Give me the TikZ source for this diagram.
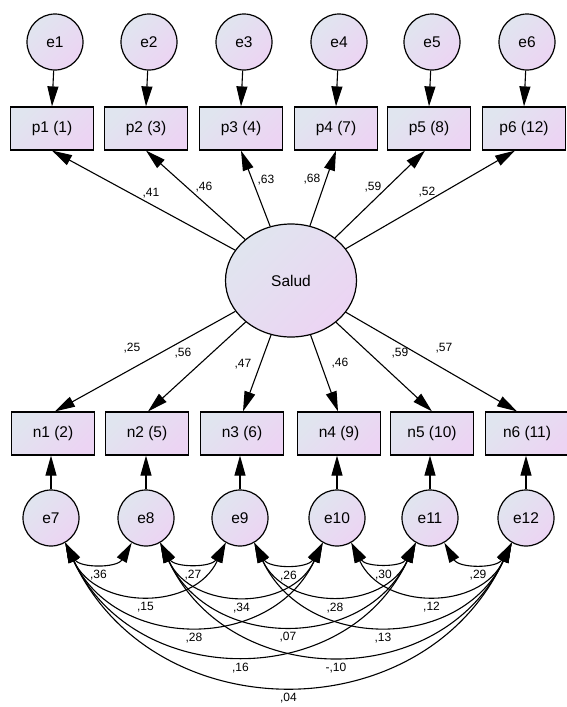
\documentclass[tikz,border=0pt]{standalone}
\usepackage{fontspec}
\setmainfont{Liberation Sans}
\usetikzlibrary{arrows.meta,shapes.geometric}
\definecolor{fillA}{RGB}{224,229,239}
\definecolor{fillB}{RGB}{236,212,243}
\tikzset{
  shadefill/.style={top color=fillA, bottom color=fillB, shading angle=45},
  boxfont/.style={font=\fontsize{15.5}{18}\selectfont},
  errvar/.style={circle, draw, line width=1.2pt, shadefill, minimum size=56pt, inner sep=0pt, boxfont},
  factor/.style={ellipse, draw, line width=1.2pt, shadefill, minimum width=131pt, minimum height=113pt, inner sep=0pt, boxfont},
  item/.style={rectangle, draw, line width=1.2pt, shadefill, minimum width=83pt, minimum height=43pt, inner sep=0pt, boxfont},
  tip/.tip={Triangle[length=20pt,width=11pt]},
  regress/.style={line width=1.1pt, -tip},
  cov/.style={line width=1.1pt, tip-tip},
  near/.style={out=-60, in=-120, looseness=1.13},
  far/.style={out=-65, in=-115, looseness=1.2},
  coef/.style={font=\fontsize{12}{14}\selectfont, inner sep=0pt},
}
\begin{document}
\begin{tikzpicture}[x=1pt, y=1pt]
\path[use as bounding box] (0,0) rectangle (567,-707);

% latent factor
\node[factor] (S) at (291,-280.5) {Salud};

% upper indicators and their errors
\foreach \i/\x/\ex/\t in {1/52/55/p1 (1), 2/146/149/p2 (3), 3/241/244/p3 (4),
                          4/336/339/p4 (7), 5/429/432/p5 (8), 6/524/527/p6 (12)} {
  \node[item] (p\i) at (\x,-128.5) {\t};
  \node[errvar] (e\i) at (\ex,-42) {e\i};
  \draw[regress] (e\i) -- (p\i.north);
}

% lower indicators and their errors
\foreach \i/\x/\ex/\t in {1/53/51/n1 (2), 2/147/146/n2 (5), 3/242/240/n3 (6),
                          4/339/337/n4 (9), 5/432/430/n5 (10), 6/527/526/n6 (11)} {
  \pgfmathtruncatemacro{\k}{\i+6}
  \node[item] (n\i) at (\x,-433.5) {\t};
  \node[errvar] (e\k) at (\ex,-518) {e\k};
  \draw[regress] (e\k) -- (e\k |- n\i.south);
}

% loadings on the upper items
\draw[regress] (S) -- (p1.south);
\draw[regress] (S) -- (p2.south);
\draw[regress] (S) -- (p3.south);
\draw[regress] (S) -- (p4.south);
\draw[regress] (S) -- ([xshift=-4pt]p5.south);
\draw[regress] (S) -- ([xshift=-9pt]p6.south);
\node[coef] (w1) at (151,-193) {,41};
\node[coef] (w2) at (204,-187) {,46};
\node[coef] (w3) at (266,-180) {,63};
\node[coef] (w4) at (312,-179) {,68};
\node[coef] (w5) at (373,-187) {,59};
\node[coef] (w6) at (427,-192) {,52};

% loadings on the lower items
\draw[regress] (S) -- ([xshift=2pt]n1.north);
\draw[regress] (S) -- ([xshift=1pt]n2.north);
\draw[regress] (S) -- ([xshift=1pt]n3.north);
\draw[regress] (S) -- ([xshift=-1pt]n4.north);
\draw[regress] (S) -- (n5.north);
\draw[regress] (S) -- ([xshift=-10pt]n6.north);
\node[coef] (v1) at (132,-348) {,25};
\node[coef] (v2) at (183,-353) {,56};
\node[coef] (v3) at (243,-364) {,47};
\node[coef] (v4) at (340,-363) {,46};
\node[coef] (v5) at (400,-353) {,59};
\node[coef] (v6) at (444,-348) {,57};

% error covariances
\draw[cov] (e7.-60)  to[near] node[coef, midway, below=8pt] (c1) {,36} (e8.-120);
\draw[cov] (e8.-60)  to[near] node[coef, midway, below=8pt] (c2) {,27} (e9.-120);
\draw[cov] (e9.-60)  to[near] node[coef, midway, below=8pt] (c3) {,26} (e10.-120);
\draw[cov] (e10.-60) to[near] node[coef, midway, below=8pt] (c4) {,30} (e11.-120);
\draw[cov] (e11.-60) to[near] node[coef, midway, below=8pt] (c5) {,29} (e12.-120);

\draw[cov] (e7.-60)  to[far] node[coef, midway, below=8pt] (c6) {,15} (e9.-120);
\draw[cov] (e8.-60)  to[far] node[coef, midway, below=8pt] (c7) {,34} (e10.-120);
\draw[cov] (e9.-60)  to[far] node[coef, midway, below=8pt] (c8) {,28} (e11.-120);
\draw[cov] (e10.-60) to[far] node[coef, midway, below=8pt] (c9) {,12} (e12.-120);

\draw[cov] (e7.-60)  to[far] node[coef, midway, below=8pt] (c10) {,28} (e10.-120);
\draw[cov] (e8.-60)  to[far] node[coef, midway, below=8pt] (c11) {,07} (e11.-120);
\draw[cov] (e9.-60)  to[far] node[coef, midway, below=8pt] (c12) {,13} (e12.-120);

\draw[cov] (e7.-60)  to[far] node[coef, midway, below=8pt] (c13) {,16} (e11.-120);
\draw[cov] (e8.-60)  to[far] node[coef, midway, below=8pt] (c14) {-,10} (e12.-120);

\draw[cov] (e7.-60)  to[far] node[coef, midway, below=8pt] (c15) {,04} (e12.-120);
\end{tikzpicture}
\end{document}
